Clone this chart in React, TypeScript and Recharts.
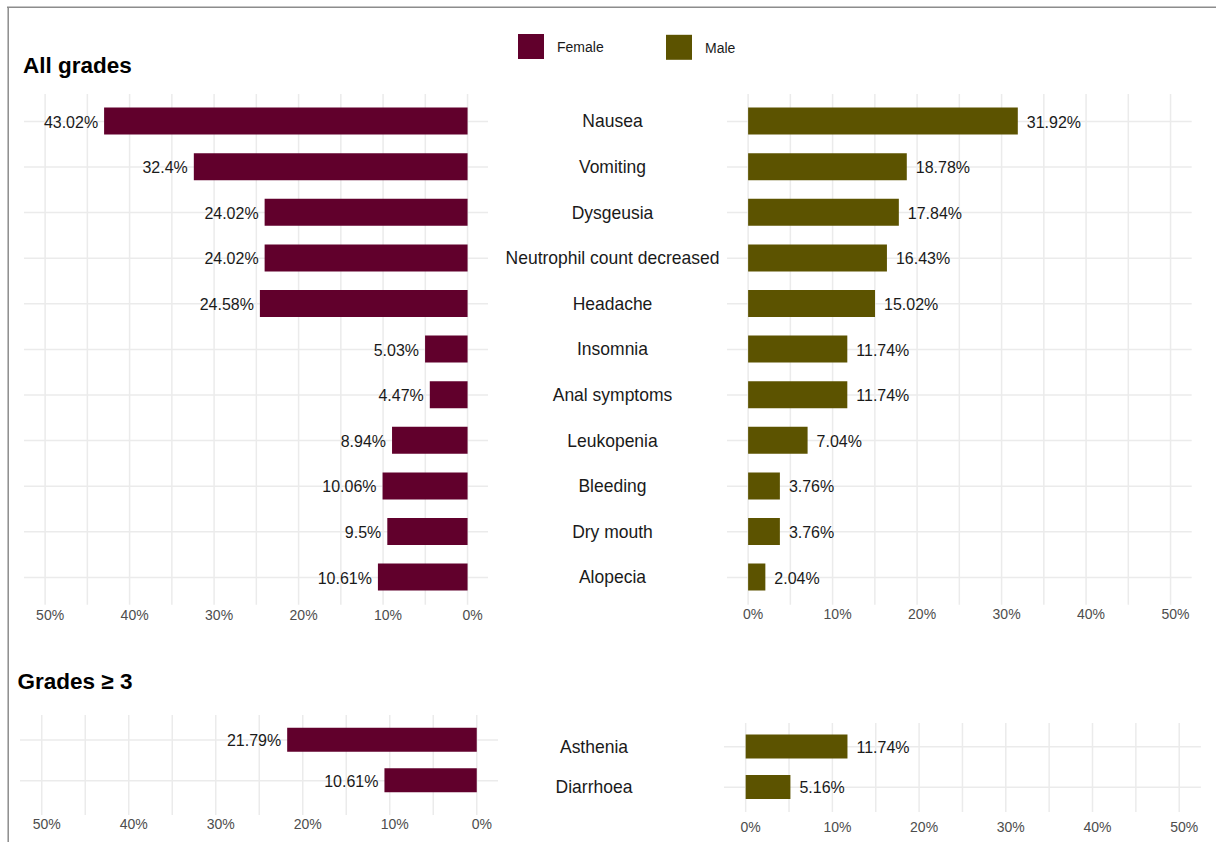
import { BarChart, Bar, XAxis, YAxis, CartesianGrid, LabelList } from 'recharts';

// Adverse events by sex, % of patients
const allGradeEvents = [
  'Nausea',
  'Vomiting',
  'Dysgeusia',
  'Neutrophil count decreased',
  'Headache',
  'Insomnia',
  'Anal symptoms',
  'Leukopenia',
  'Bleeding',
  'Dry mouth',
  'Alopecia',
];
const femaleAllGrades = [43.02, 32.4, 24.02, 24.02, 24.58, 5.03, 4.47, 8.94, 10.06, 9.5, 10.61];
const maleAllGrades = [31.92, 18.78, 17.84, 16.43, 15.02, 11.74, 11.74, 7.04, 3.76, 3.76, 2.04];

const severeEvents = ['Asthenia', 'Diarrhoea'];
const femaleSevere = [21.79, 10.61];
const maleSevere = [11.74, 5.16];

const pctTicks = [0, 5, 10, 15, 20, 25, 30, 35, 40, 45, 50];
const legendItems = ['Female', 'Male'];

const FEMALE = '#61002C';
const MALE = '#5C5300';
const GRID = '#EBEBEB';
const FONT = '"Liberation Sans", Arial, Helvetica, sans-serif';

type Row = { name: string; value: number };

function toRows(names: string[], values: number[]): Row[] {
  return names.map((name, i) => ({ name, value: values[i] }));
}

function pctLabel(v: number) {
  return v % 10 === 0 ? `${v}%` : '';
}

function ValueLabel(props: any) {
  const { side } = props;
  const vb = props.viewBox && props.viewBox.width !== undefined ? props.viewBox : props;
  const x = Number(vb.x);
  const w = Number(vb.width);
  const y = Number(vb.y) + Number(vb.height) / 2;
  const lo = Math.min(x, x + w);
  const hi = Math.max(x, x + w);
  const female = side === 'female';
  return (
    <text
      x={female ? lo - 6 : hi + 9}
      y={y}
      dy={1}
      textAnchor={female ? 'end' : 'start'}
      dominantBaseline="central"
      fontSize={16}
      fill="#1A1A1A"
      fontFamily={FONT}
    >
      {`${props.value}%`}
    </text>
  );
}

interface PanelProps {
  rows: Row[];
  color: string;
  side: 'female' | 'male';
  left: number;
  top: number;
  plotWidth: number;
  plotHeight: number;
  padTop: number;
  padBottom: number;
  barSize: number;
  tickMargin: number;
  labelAxisWidth?: number;
  labelCenter?: number;
}

function Panel({
  rows, color, side, left, top, plotWidth, plotHeight,
  padTop, padBottom, barSize, tickMargin, labelAxisWidth = 0, labelCenter = 0,
}: PanelProps) {
  const axisH = 30;
  const showLabels = labelAxisWidth > 0;
  return (
    <div style={{ position: 'absolute', left: left - labelAxisWidth, top }}>
      <BarChart
        layout="vertical"
        width={plotWidth + labelAxisWidth}
        height={plotHeight + axisH}
        data={rows}
        margin={{ top: 0, right: 0, bottom: 0, left: 0 }}
      >
        <CartesianGrid stroke={GRID} strokeWidth={1.5} syncWithTicks />
        <XAxis
          type="number"
          domain={[-2.5, 52.5]}
          allowDataOverflow
          ticks={pctTicks}
          interval={0}
          reversed={side === 'female'}
          tickFormatter={pctLabel}
          axisLine={false}
          tickLine={false}
          tickSize={0}
          tickMargin={tickMargin}
          height={axisH}
          tick={{ fontSize: 14, fill: '#4D4D4D', fontFamily: FONT, dx: 5 }}
        />
        <YAxis
          type="category"
          dataKey="name"
          hide={!showLabels}
          width={labelAxisWidth}
          padding={{ top: padTop, bottom: padBottom }}
          axisLine={false}
          tickLine={false}
          tickSize={0}
          tickMargin={0}
          interval={0}
          tick={(p: any) => (
            <text
              x={p.x + labelCenter}
              y={p.y}
              textAnchor="middle"
              dominantBaseline="central"
              fontSize={17.5}
              fill="#1A1A1A"
              fontFamily={FONT}
            >
              {p.payload.value}
            </text>
          )}
        />
        <Bar dataKey="value" fill={color} barSize={barSize} isAnimationActive={false}>
          <LabelList dataKey="value" content={(p: any) => <ValueLabel {...p} side={side} />} />
        </Bar>
      </BarChart>
    </div>
  );
}

export default function App() {
  const femaleTop = toRows(allGradeEvents, femaleAllGrades);
  const maleTop = toRows(allGradeEvents, maleAllGrades);
  const femaleBottom = toRows(severeEvents, femaleSevere);
  const maleBottom = toRows(severeEvents, maleSevere);
  const colors = [FEMALE, MALE];

  return (
    <div
      style={{
        position: 'absolute', left: 0, top: 0, width: 1216, height: 842,
        background: '#fff', overflow: 'hidden', fontFamily: FONT,
      }}
    >
      <svg width={1216} height={842} style={{ position: 'absolute', left: 0, top: 0 }}>
        <line x1={7} y1={7.2} x2={1216} y2={7.2} stroke="#8C8C8C" strokeWidth={1.5} />
        <line x1={8.2} y1={7} x2={8.2} y2={842} stroke="#8C8C8C" strokeWidth={1.5} />
        <text x={23} y={73} fontSize={22.5} fontWeight="bold" fill="#000" fontFamily={FONT}>
          All grades
        </text>
        <text x={17.5} y={689} fontSize={22.5} fontWeight="bold" fill="#000" fontFamily={FONT}>
          Grades ≥ 3
        </text>
        {legendItems.map((name, i) => (
          <g key={name} transform={`translate(${518 + i * 148}, ${34 + i * 0.8})`}>
            <rect width={26} height={25} fill={colors[i]} />
            <text x={39} y={13} dominantBaseline="central" fontSize={14} fill="#1A1A1A" fontFamily={FONT}>
              {name}
            </text>
          </g>
        ))}
      </svg>

      <Panel
        rows={femaleTop} color={FEMALE} side="female"
        left={23.7} top={93.6} plotWidth={464.7} plotHeight={510.8}
        padTop={4.6} padBottom={4.6} barSize={27} tickMargin={5.6}
      />
      <Panel
        rows={maleTop} color={MALE} side="male"
        left={727.2} top={93.6} plotWidth={464.7} plotHeight={510.8}
        padTop={4.6} padBottom={4.6} barSize={27} tickMargin={4.5}
        labelAxisWidth={238} labelCenter={-114.5}
      />
      <Panel
        rows={femaleBottom} color={FEMALE} side="female"
        left={19.95} top={715} plotWidth={478.5} plotHeight={100}
        padTop={4.65} padBottom={13.95} barSize={24} tickMargin={4}
      />
      <Panel
        rows={maleBottom} color={MALE} side="male"
        left={724} top={723} plotWidth={476.9} plotHeight={89}
        padTop={3.4} padBottom={4.4} barSize={24} tickMargin={10.5}
        labelAxisWidth={238} labelCenter={-130}
      />
    </div>
  );
}
